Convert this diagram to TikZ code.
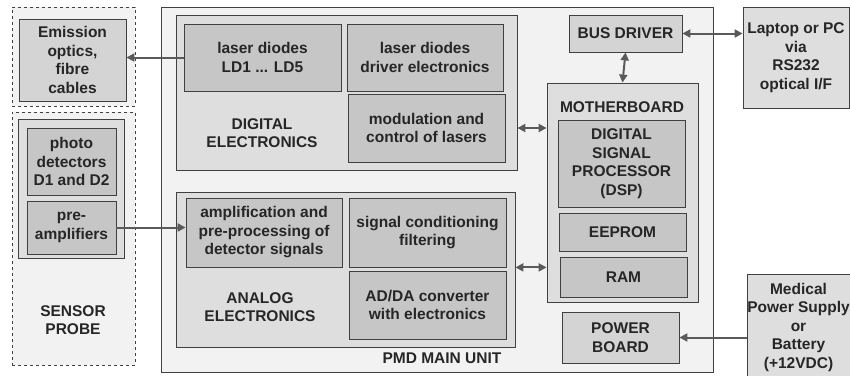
\documentclass[tikz,border=0pt]{standalone}
\usepackage{fontspec}
\setmainfont{Liberation Sans}
\usetikzlibrary{arrows.meta}
\definecolor{edgegray}{HTML}{404040}
\definecolor{wiregray}{HTML}{5A5A5A}
\definecolor{palegray}{HTML}{F2F2F2}
\definecolor{midgray}{HTML}{DEDEDE}
\definecolor{boardgray}{HTML}{D4D4D4}
\definecolor{chipgray}{HTML}{C6C6C6}
\begin{document}
\begin{tikzpicture}
    [
        x=1pt, y=-1pt,
        every node/.style={font=\fontsize{15.5}{18.5}\selectfont\bfseries, align=center, text=black!85, inner sep=0pt},
        block/.style={draw=edgegray, line width=0.8pt, fill=#1},
        probe/.style={draw=edgegray, line width=0.7pt, dashed, fill=palegray},
        wire/.style={draw=wiregray, line width=2pt, -{Triangle[length=8pt, width=8pt]}},
        biwire/.style={wire, {Triangle[length=8pt, width=8pt]}-{Triangle[length=8pt, width=8pt]}}
    ]
    \useasboundingbox (0,0) rectangle (850,375);

    % sensor probe
    \node[probe, minimum width=123pt, minimum height=99pt] (optics) at (73.5,56.5) {};
    \node[block=boardgray, minimum width=107pt, minimum height=82pt] (emission) at (72.5,60) {Emission\\optics,\\fibre\\cables};
    \node[probe, minimum width=123pt, minimum height=253pt] (sensor) at (73.5,238.5) {};
    \node[block=midgray, minimum width=106pt, minimum height=139pt] (detect) at (71,188.5) {};
    \node[block=chipgray, minimum width=89pt, minimum height=67pt] (photo) at (71.5,161.5) {photo\\detectors\\D1 and D2};
    \node[block=chipgray, minimum width=89pt, minimum height=53pt] (preamp) at (71.5,227.5) {pre-\\amplifiers};
    \node (sensorlabel) at (73,320) {SENSOR\\PROBE};

    % main unit
    \node[block=palegray, minimum width=552pt, minimum height=365pt] (main) at (437,189.5) {};
    \node (mainlabel) at (442,358) {PMD MAIN UNIT};

    % digital electronics
    \node[block=midgray, minimum width=341pt, minimum height=155pt] (digital) at (346.5,92.5) {};
    \node[block=chipgray, minimum width=157pt, minimum height=67pt] (ld) at (262.5,57.5) {laser diodes\\LD1 ... LD5};
    \node[block=chipgray, minimum width=156pt, minimum height=67pt] (driver) at (425,57.5) {laser diodes\\driver electronics};
    \node[block=chipgray, minimum width=157pt, minimum height=68pt] (modul) at (426.5,128) {modulation and\\control of lasers};
    \node (digitallabel) at (262,133) {DIGITAL\\ELECTRONICS};

    % analog electronics
    \node[block=midgray, minimum width=339pt, minimum height=155pt] (analog) at (345.5,269.5) {};
    \node[block=chipgray, minimum width=156pt, minimum height=69pt] (amp) at (264,232.5) {amplification and\\pre-processing of\\detector signals};
    \node[block=chipgray, minimum width=157pt, minimum height=69pt] (sigcond) at (427.5,232.5) {signal conditioning\\filtering};
    \node[block=chipgray, minimum width=157pt, minimum height=68pt] (adda) at (427.5,305) {AD/DA converter\\with electronics};
    \node (analoglabel) at (260,307) {ANALOG\\ELECTRONICS};

    % motherboard
    \node[block=boardgray, minimum width=113pt, minimum height=37pt] (bus) at (625.5,33.5) {BUS DRIVER};
    \node[block=midgray, minimum width=151pt, minimum height=219pt] (mother) at (622.5,192.5) {};
    \node (motherlabel) at (622,107) {MOTHERBOARD};
    \node[block=chipgray, minimum width=127pt, minimum height=87pt] (dsp) at (621.5,163.5) {DIGITAL\\SIGNAL\\PROCESSOR\\(DSP)};
    \node[block=chipgray, minimum width=127pt, minimum height=38pt] (eeprom) at (622.5,232) {EEPROM};
    \node[block=chipgray, minimum width=127pt, minimum height=40pt] (ram) at (623.5,277) {RAM};
    \node[block=boardgray, minimum width=117pt, minimum height=51pt] (power) at (620.5,337.5) {POWER\\BOARD};

    % outside
    \node[block=midgray, minimum width=106pt, minimum height=101pt] (laptop) at (796,57.5) {Laptop or PC\\via\\RS232\\optical I/F};
    \node[block=midgray, minimum width=103pt, minimum height=106pt] (supply) at (798.5,327) {Medical\\Power Supply\\or\\Battery\\(+12VDC)};

    % connectors
    \draw[wire] (ld.west) -- (ld.west -| emission.east);
    \draw[wire] (preamp.east) -- (preamp.east -| amp.west);
    \draw[biwire] (digital.east |- modul.east) -- (mother.west |- modul.east);
    \draw[biwire] (analog.east |- sigcond.south) -- (mother.west |- sigcond.south);
    \draw[biwire] (bus.east) -- (laptop.west |- bus.east);
    \draw[biwire] (bus.south) -- (mother.north);
    \draw[wire] (supply.west |- power.east) -- (power.east);
\end{tikzpicture}
\end{document}
